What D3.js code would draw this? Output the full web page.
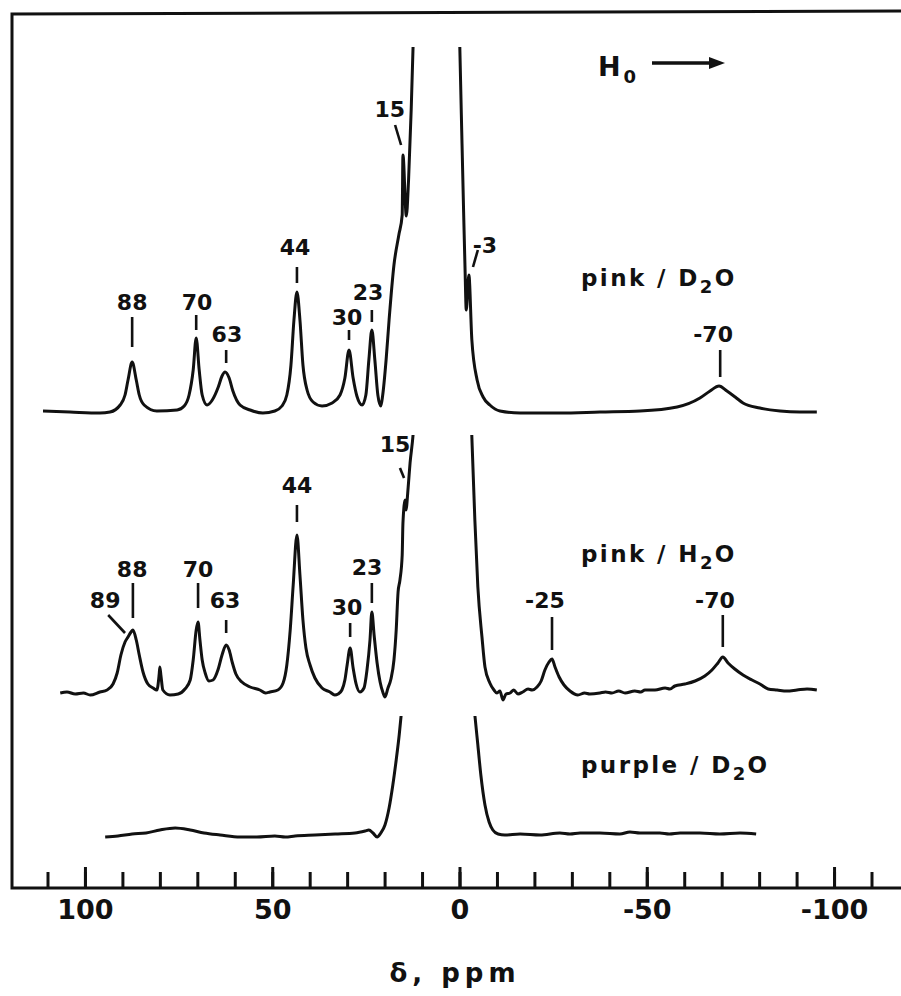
<!DOCTYPE html>
<html>
<head>
<meta charset="utf-8">
<script src="https://cdn.jsdelivr.net/npm/d3@7"></script>
<style>
  body { margin: 0; background: #fff; }
  svg { display: block; }
  text { font-family: "DejaVu Sans", sans-serif; font-weight: bold; fill: #111; }
</style>
</head>
<body>
<div id="chart"></div>
<script>
var svgWidth = 901;
var svgHeight = 996;

// Spectra: [shift in ppm, intensity above baseline]
var pinkD2O = [
  [111.2, 1], [104.0, 0], [96.0, -1], [93.3, 0], [90.6, 7], [89.3, 17], [88.5, 32], [87.4, 50],
  [86.3, 32], [85.5, 17], [84.2, 7], [80.8, 1], [75.4, 2], [73.5, 6], [72.2, 17], [71.1, 42],
  [70.3, 74], [69.5, 42], [68.7, 17], [67.4, 7], [66.0, 12], [64.4, 25], [63.4, 36], [62.6, 40],
  [61.5, 34], [60.5, 21], [58.6, 7], [55.9, 2], [52.5, -1], [49.3, 1], [47.4, 6], [46.1, 17],
  [45.0, 47], [44.2, 92], [43.4, 120], [42.6, 92], [41.8, 47], [40.7, 22], [39.1, 10], [36.7, 6],
  [34.0, 9], [31.9, 17], [30.6, 34], [29.5, 62], [28.4, 34], [27.4, 16], [26.0, 7], [25.0, 17],
  [24.2, 52], [23.4, 82], [22.6, 52], [21.8, 17], [21.0, 6], [20.5, 17], [19.6, 52], [18.8, 92],
  [17.5, 147], [16.2, 177], [15.3, 197], [15.1, 257], [14.2, 196], [13.6, 232], [12.9, 302],
  [12.4, 365], [6.0, 2000], [-0.1, 362], [-0.6, 280], [-1.1, 200], [-1.5, 140], [-1.8, 102],
  [-2.5, 137], [-3.3, 72], [-4.7, 32], [-6.3, 15], [-8.1, 7], [-10.8, 1], [-16.2, -1], [-26.8, -1],
  [-37.5, 0], [-48.2, 1], [-58.1, 5], [-64.2, 14], [-66.9, 21], [-69.3, 26], [-71.4, 21],
  [-73.6, 15], [-75.7, 9], [-80.2, 4], [-85.6, 1], [-90.9, 0], [-95.4, 0]
];

var pinkH2O = [
  [106.6, 0], [104.8, 1], [102.6, -1], [100.4, 0], [98.6, -2], [96.0, 1], [94.1, 3], [92.5, 9],
  [91.4, 20], [90.4, 38], [89.3, 51], [88.5, 56], [87.7, 61], [87.2, 63], [86.3, 53], [85.5, 38],
  [84.5, 21], [83.2, 9], [81.8, 5], [80.8, 3], [80.2, 18], [80.0, 26], [79.7, 17], [79.2, 3],
  [77.3, -2], [75.1, -1], [73.3, 4], [71.9, 13], [71.1, 33], [70.3, 63], [69.8, 71], [69.3, 53],
  [68.7, 33], [67.9, 20], [66.9, 12], [65.8, 13], [64.5, 23], [63.4, 38], [62.3, 48], [61.5, 43],
  [60.7, 31], [59.7, 19], [58.1, 11], [55.9, 6], [53.3, 3], [51.8, 0], [50.6, 1], [48.5, 3],
  [47.1, 10], [46.1, 28], [45.2, 63], [44.4, 108], [43.4, 158], [42.6, 118], [41.8, 73], [41.0, 45],
  [39.9, 28], [38.6, 15], [36.7, 5], [34.6, 1], [33.3, -2], [32.4, -1], [31.4, 3], [30.6, 13],
  [30.0, 28], [29.2, 45], [28.4, 25], [27.6, 9], [26.6, 1], [25.5, 5], [24.7, 23], [23.9, 53],
  [23.4, 81], [22.8, 58], [22.0, 30], [21.2, 11], [20.4, 0], [19.9, -4], [19.1, 5], [18.3, 14],
  [17.5, 33], [16.9, 63], [16.4, 101], [15.9, 113], [15.3, 138], [15.1, 170], [14.5, 193],
  [14.3, 183], [13.7, 206], [13.2, 230], [12.4, 258], [5.0, 1500], [-3.3, 256], [-4.1, 173],
  [-4.9, 106], [-6.0, 56], [-6.8, 26], [-8.1, 10], [-9.2, 3], [-10.0, 0], [-10.8, 2], [-11.6, -7],
  [-12.4, -1], [-13.5, 0], [-14.5, 3], [-15.6, -1], [-16.9, 1], [-18.3, 4], [-19.4, 3], [-20.7, 6],
  [-21.8, 12], [-22.8, 23], [-23.9, 31], [-24.7, 34], [-25.5, 26], [-26.6, 16], [-27.9, 8],
  [-29.5, 2], [-31.6, -2], [-33.4, 0], [-34.8, -1], [-37.5, 0], [-39.0, 1], [-40.7, 0], [-42.5, 2],
  [-44.2, 0], [-46.8, 2], [-48.4, 1], [-49.5, 3], [-52.2, 3], [-54.9, 5], [-56.2, 4], [-57.5, 7],
  [-60.2, 9], [-62.9, 12], [-65.5, 17], [-67.4, 23], [-69.0, 30], [-70.3, 36], [-71.7, 30],
  [-73.5, 24], [-75.7, 18], [-78.1, 13], [-80.2, 9], [-82.4, 4], [-84.8, 3], [-87.4, 2],
  [-90.1, 3], [-92.8, 4], [-95.4, 3]
];

var purpleD2O = [
  [94.6, -2], [91.2, -1], [87.4, 1], [83.7, 2], [80.0, 5], [75.9, 7], [71.9, 5], [68.2, 2],
  [63.9, 0], [58.6, -2], [54.1, -2], [49.3, -1], [46.5, -2], [43.9, -1], [38.6, 0], [33.2, 1],
  [27.9, 2], [25.2, 4], [24.2, 5], [23.1, 2], [22.0, -2], [21.0, 2], [19.9, 10], [18.8, 27],
  [17.8, 50], [16.9, 75], [16.1, 100], [15.6, 119], [7.0, 800], [-4.1, 120], [-4.9, 90],
  [-5.7, 60], [-6.8, 30], [-7.9, 13], [-8.9, 5], [-10.3, 1], [-12.1, 0], [-16.2, 1], [-21.5, 0],
  [-26.8, 2], [-29.5, 1], [-32.2, 2], [-37.5, 2], [-42.8, 1], [-45.5, 3], [-48.2, 2], [-53.5, 2],
  [-56.0, 1], [-58.9, 2], [-64.2, 2], [-69.5, 1], [-74.9, 2], [-79.2, 1]
];

// Peak annotations: label text, text centre (ppm, intensity), marker ends (ppm, intensity)
var labelsD2O = [
  ["88", 87.4, 102, 87.4, 95, 87.4, 65],
  ["70", 70.1, 102, 70.3, 97, 70.3, 82],
  ["63", 62.1, 70, 62.3, 62, 62.3, 49],
  ["44", 43.9, 157, 43.4, 145, 43.4, 129],
  ["30", 30.0, 87, 29.5, 82, 29.5, 72],
  ["23", 24.4, 112, 23.4, 102, 23.4, 90],
  ["15", 18.6, 295, 17.2, 287, 15.6, 267],
  ["-3", -6.8, 159, -4.9, 162, -3.6, 145],
  ["-70", -67.7, 70, -69.6, 62, -69.6, 35]
];

var labelsH2O = [
  ["89", 94.6, 85, 93.8, 78, 89.3, 60],
  ["88", 87.4, 116, 87.2, 110, 87.2, 75],
  ["70", 69.8, 116, 69.8, 110, 69.8, 85],
  ["63", 62.6, 85, 62.3, 73, 62.3, 60],
  ["44", 43.4, 200, 43.4, 188, 43.4, 171],
  ["30", 30.0, 78, 29.2, 70, 29.2, 56],
  ["23", 24.7, 118, 23.4, 110, 23.4, 90],
  ["15", 17.2, 241, 15.9, 225, 14.8, 215],
  ["-25", -22.8, 85, -24.7, 76, -24.7, 43],
  ["-70", -68.2, 85, -70.3, 78, -70.3, 46]
];

var majorTicks = [100, 50, 0, -50, -100];
var minorTicks = d3.range(110, -111, -10);

var svg = d3.select("#chart")
  .append("svg")
  .attr("width", svgWidth)
  .attr("height", svgHeight);

var xScale = d3.scaleLinear()
  .domain([110, -110])
  .range([47.5, 871.5]);

var axisY = 888;

// panels: baseline and the height where the trace goes off scale
var panels = [
  { id: "p1", data: pinkD2O, labels: labelsD2O, base: 412, top: 47, name: ["pink / D", "O"], nameX: 581, nameY: 286 },
  { id: "p2", data: pinkH2O, labels: labelsH2O, base: 693, top: 435, name: ["pink / H", "O"], nameX: 581, nameY: 562 },
  { id: "p3", data: purpleD2O, labels: [], base: 835, top: 716, name: ["purple / D", "O"], nameX: 581, nameY: 773 }
];

var defs = svg.append("defs");

panels.forEach(function(p) {
  var yScale = d3.scaleLinear()
    .domain([0, 100])
    .range([p.base, p.base - 100]);

  defs.append("clipPath")
    .attr("id", "clip-" + p.id)
    .append("rect")
    .attr("x", 0)
    .attr("y", p.top)
    .attr("width", svgWidth)
    .attr("height", svgHeight - p.top);

  var line = d3.line()
    .x(d => xScale(d[0]))
    .y(d => yScale(d[1]))
    .curve(d3.curveMonotoneX);

  svg.append("path")
    .datum(p.data)
    .attr("clip-path", "url(#clip-" + p.id + ")")
    .attr("fill", "none")
    .attr("stroke", "#111")
    .attr("stroke-width", 3)
    .attr("stroke-linejoin", "round")
    .attr("d", line);

  // peak labels and markers
  var g = svg.append("g");
  p.labels.forEach(function(l) {
    g.append("text")
      .attr("x", xScale(l[1]))
      .attr("y", yScale(l[2]))
      .attr("text-anchor", "middle")
      .style("font-size", "22px")
      .text(l[0]);
    g.append("line")
      .attr("x1", xScale(l[3]))
      .attr("y1", yScale(l[4]))
      .attr("x2", xScale(l[5]))
      .attr("y2", yScale(l[6]))
      .attr("stroke", "#111")
      .attr("stroke-width", 2.6);
  });

  // sample name
  var t = svg.append("text")
    .attr("x", p.nameX)
    .attr("y", p.nameY)
    .style("font-size", "23px")
    .style("letter-spacing", "2.4px");
  t.append("tspan").text(p.name[0]);
  t.append("tspan").attr("dy", 7).style("font-size", "18px").text("2");
  t.append("tspan").attr("dy", -7).text(p.name[1]);
});

// frame
svg.append("path")
  .attr("d", `M901,11 L12,14 L12,${axisY} L901,${axisY}`)
  .attr("fill", "none")
  .attr("stroke", "#111")
  .attr("stroke-width", 3);

// ticks point inward, labels below
var minorAxis = d3.axisBottom(xScale)
  .tickValues(minorTicks)
  .tickSize(-16)
  .tickFormat("");

var majorAxis = d3.axisBottom(xScale)
  .tickValues(majorTicks)
  .tickSize(-21)
  .tickPadding(12)
  .tickFormat(d => String(d));

var gMinor = svg.append("g")
  .attr("transform", `translate(0, ${axisY})`)
  .call(minorAxis);

var gMajor = svg.append("g")
  .attr("transform", `translate(0, ${axisY})`)
  .call(majorAxis);

[gMinor, gMajor].forEach(function(g) {
  g.select(".domain").remove();
  g.selectAll(".tick line").attr("stroke", "#111").attr("stroke-width", 3);
});

gMajor.selectAll(".tick text")
  .attr("fill", "#111")
  .style("font-family", "DejaVu Sans, sans-serif")
  .style("font-weight", "bold")
  .style("font-size", "27px");

// axis title
svg.append("text")
  .attr("x", 455)
  .attr("y", 982)
  .attr("text-anchor", "middle")
  .style("font-size", "26px")
  .style("letter-spacing", "5px")
  .text("δ, ppm");

// field direction
var h0 = svg.append("text")
  .attr("x", 598)
  .attr("y", 76)
  .style("font-size", "27px");
h0.append("tspan").text("H");
h0.append("tspan").attr("dx", 3).attr("dy", 7).style("font-size", "18px").text("0");

svg.append("line")
  .attr("x1", 652)
  .attr("y1", 63)
  .attr("x2", 712)
  .attr("y2", 63)
  .attr("stroke", "#111")
  .attr("stroke-width", 3.5);

svg.append("path")
  .attr("d", "M709,57 L725,63 L709,69 Z")
  .attr("fill", "#111");
</script>
</body>
</html>
